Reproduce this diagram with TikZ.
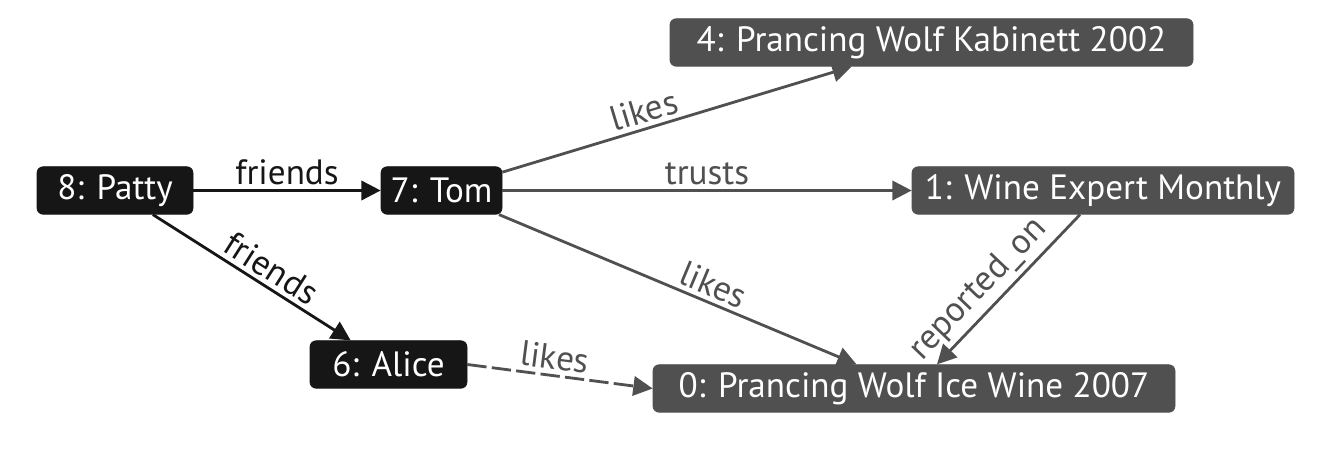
\documentclass[tikz,border=0pt]{standalone}
\usepackage{fontspec}
\setsansfont{PT Sans}
\usepackage{tikz}
\usetikzlibrary{positioning}
\usetikzlibrary{arrows.meta}
\usepackage{xcolor}
\definecolor{nodeblack}{HTML}{161616}
\definecolor{nodegray}{HTML}{505050}

\begin{document}
\begin{tikzpicture}[
  font=\sffamily\fontsize{20}{24}\selectfont,
  % --- styles ---
  person/.style={
    draw=nodeblack, fill=nodeblack, text=white, rounded corners=3.5pt,
    minimum height=0.95cm, inner sep=2pt
  },
  thing/.style={
    draw=nodegray, fill=nodegray, text=white, rounded corners=3.5pt,
    minimum height=0.95cm, inner sep=2pt
  },
  link/.style={-{Triangle[length=11pt,width=11pt]}, line width=1.6pt, nodegray, text=nodegray},
  blink/.style={link, nodeblack, text=nodeblack},
  lab/.style={sloped, above, inner sep=2.5pt}
]
\useasboundingbox (0,0) rectangle (26.8,9.16);

% ======================================================
% People
% ======================================================
\node[person, minimum width=3.12cm] (patty) at ( 2.30, 5.35) {8: Patty};
\node[person, minimum width=2.42cm] (tom)   at ( 8.83, 5.35) {7: Tom};
\node[person, minimum width=3.14cm] (alice) at ( 7.77, 1.87) {6: Alice};

% ======================================================
% Wines and magazine
% ======================================================
\node[thing, minimum width=10.46cm] (kab)  at (18.63, 8.31) {4: Prancing Wolf Kabinett 2002};
\node[thing, minimum width=7.64cm]  (wem)  at (22.06, 5.35) {1: Wine Expert Monthly};
\node[thing, minimum width=10.44cm] (ice)  at (18.28, 1.39) {0: Prancing Wolf Ice Wine 2007};

% ======================================================
% Edges
% ======================================================
\draw[blink] (patty) -- node[lab] {friends} (tom);
\draw[blink] (patty) -- node[lab, pos=0.55] {friends} (alice);

\draw[link] (tom) -- node[lab, pos=0.42] {likes} (kab);
\draw[link] (tom.east) -- node[lab] {trusts} (wem.west);
\draw[link] (tom) -- node[lab, pos=0.58] {likes} (ice);
\draw[link] (wem) -- node[lab, pos=0.6] {reported\_on} (ice);

% dashed like from Alice
\draw[link, dash pattern=on 11pt off 3pt] (alice.east) -- node[lab, pos=0.46] {likes} (ice.west);

\end{tikzpicture}
\end{document}
